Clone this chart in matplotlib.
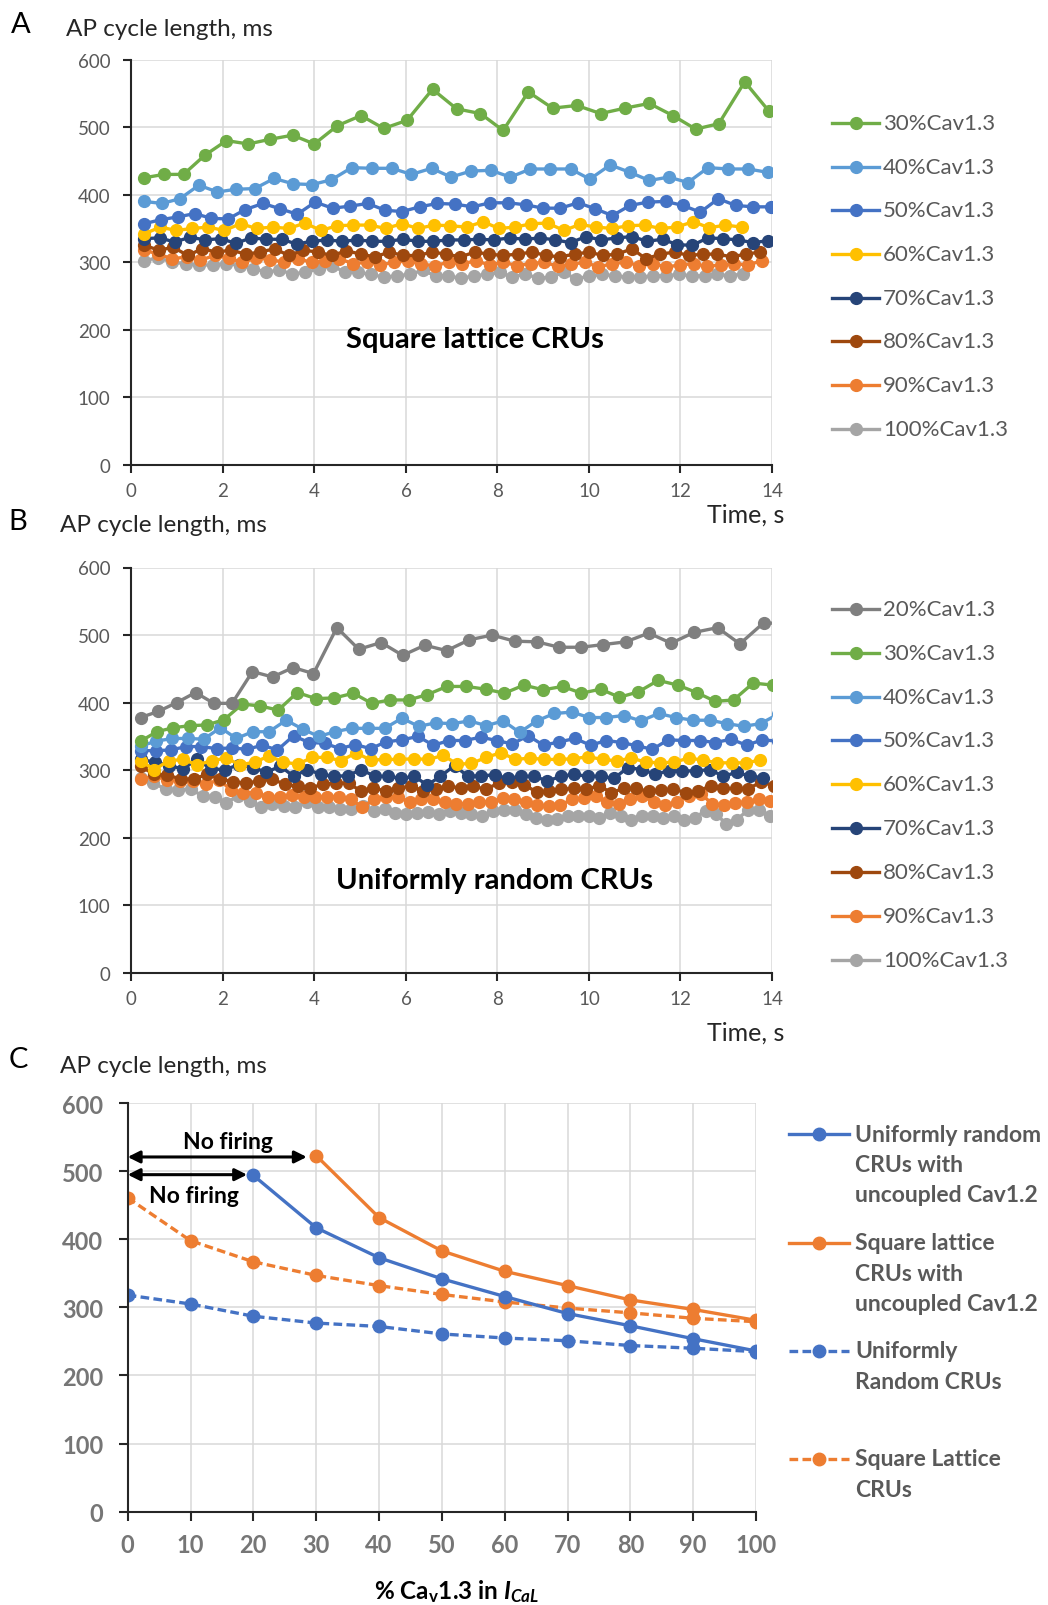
import numpy as np
import matplotlib
matplotlib.use("Agg")
import matplotlib.pyplot as plt
from matplotlib.lines import Line2D

plt.rcParams['font.family'] = ['Lato', 'DejaVu Sans']
plt.rcParams['mathtext.fontset'] = 'custom'
plt.rcParams['mathtext.rm'] = 'Lato:bold'
plt.rcParams['mathtext.it'] = 'Lato:italic:bold'
plt.rcParams['mathtext.bf'] = 'Lato:bold'

W, H = 1048, 1606

# --- Panel A: square lattice CRUs, AP cycle length (ms) per beat ---
a_labels = ["30%Cav1.3", "40%Cav1.3", "50%Cav1.3", "60%Cav1.3",
            "70%Cav1.3", "80%Cav1.3", "90%Cav1.3", "100%Cav1.3"]
a30 = [425, 430, 430, 458, 480, 475, 482, 488, 475, 502, 517, 498, 510, 556, 527, 520, 495, 552,
       528, 532, 520, 528, 535, 517, 497, 505, 567, 524]
a40 = [390, 387, 394, 414, 404, 408, 409, 424, 416, 415, 422, 440, 439, 439, 430, 439, 426, 435,
       436, 426, 438, 438, 438, 423, 444, 433, 421, 426, 418, 440, 438, 438, 433]
a50 = [357, 363, 367, 372, 365, 364, 378, 387, 379, 371, 389, 380, 383, 387, 377, 375, 382, 387,
       386, 382, 388, 388, 385, 380, 380, 388, 379, 369, 384, 389, 390, 384, 374, 394, 384, 382, 382]
a60 = [342, 352, 347, 350, 352, 347, 357, 350, 352, 350, 358, 347, 354, 355, 355, 350, 357, 350,
       355, 354, 352, 360, 350, 352, 357, 358, 347, 356, 352, 350, 354, 355, 350, 352, 360, 351, 355, 352]
a70 = [335, 336, 330, 337, 333, 335, 328, 336, 334, 334, 327, 331, 333, 331, 333, 331, 331, 334,
       331, 331, 333, 333, 334, 333, 336, 334, 336, 333, 329, 338, 333, 336, 338, 331, 334, 326,
       325, 336, 335, 333, 329, 332]
a80 = [325, 318, 322, 310, 320, 315, 318, 312, 315, 320, 310, 318, 315, 310, 317, 312, 308, 315,
       310, 310, 315, 312, 308, 315, 312, 310, 312, 315, 310, 308, 312, 315, 310, 312, 320, 305,
       312, 315, 310, 312, 312, 308, 312, 315]
a90 = [318, 312, 305, 308, 303, 310, 306, 300, 306, 304, 300, 305, 300, 302, 305, 298, 300, 296,
       300, 302, 297, 295, 300, 298, 302, 296, 300, 295, 298, 300, 294, 297, 300, 293, 298, 300,
       295, 298, 293, 296, 298, 294, 296, 298, 296, 302]
a100 = [302, 307, 300, 298, 296, 296, 298, 295, 290, 286, 288, 283, 285, 290, 295, 285, 285, 282,
        278, 280, 282, 288, 280, 280, 276, 280, 282, 285, 278, 283, 276, 278, 285, 275, 280, 282,
        280, 278, 278, 280, 280, 282, 280, 280, 282, 280, 283]

# --- Panel B: uniformly random CRUs ---
b_labels = ["20%Cav1.3"] + a_labels
b20 = [378, 387, 400, 415, 399, 399, 446, 438, 452, 443, 511, 479, 489, 470, 485, 477, 493, 500,
       491, 490, 482, 482, 486, 490, 503, 488, 504, 511, 487, 518, 517]
b30 = [343, 357, 363, 366, 367, 375, 398, 395, 389, 415, 406, 407, 414, 399, 404, 404, 412, 424,
       424, 420, 414, 426, 419, 424, 414, 420, 408, 416, 433, 426, 415, 402, 404, 429, 426]
b40 = [336, 343, 347, 347, 346, 363, 347, 357, 357, 374, 361, 350, 357, 362, 362, 362, 377, 365,
       370, 369, 373, 366, 373, 356, 373, 384, 386, 378, 378, 381, 373, 384, 378, 374, 374, 369,
       365, 369, 383]
b50 = [329, 329, 330, 335, 335, 332, 333, 331, 337, 330, 351, 341, 340, 332, 338, 332, 342, 345,
       350, 337, 344, 344, 349, 344, 339, 351, 337, 342, 347, 337, 344, 341, 336, 331, 345, 344,
       344, 341, 346, 337, 345, 343]
b60 = [314, 301, 314, 316, 308, 314, 318, 308, 312, 321, 312, 309, 319, 319, 314, 326, 315, 316,
       316, 317, 316, 322, 309, 310, 319, 326, 316, 318, 316, 316, 317, 320, 316, 314, 318, 312,
       311, 312, 318, 315, 311, 311, 311, 315]
b70 = [316, 312, 307, 302, 316, 302, 301, 308, 304, 297, 306, 291, 301, 294, 291, 292, 301, 291,
       291, 288, 291, 278, 291, 307, 291, 292, 293, 288, 291, 291, 284, 291, 294, 291, 291, 288,
       304, 301, 294, 299, 299, 299, 301, 291, 297, 291, 289]
b80 = [306, 294, 293, 287, 287, 294, 287, 283, 281, 284, 287, 279, 276, 274, 279, 281, 281, 269,
       274, 269, 273, 277, 269, 272, 276, 274, 276, 272, 281, 282, 278, 268, 269, 272, 273, 272,
       277, 267, 273, 273, 269, 271, 272, 267, 269, 277, 273, 273, 272, 283, 277]
b90 = [287, 291, 286, 284, 284, 279, 286, 271, 267, 267, 261, 261, 264, 261, 261, 261, 261, 257,
       245, 257, 261, 261, 253, 257, 257, 253, 250, 250, 253, 253, 259, 258, 253, 248, 247, 248,
       257, 259, 262, 253, 250, 258, 262, 253, 248, 253, 262, 265, 250, 249, 252, 253, 257, 254]
b100 = [289, 281, 272, 271, 272, 262, 261, 252, 262, 255, 245, 250, 247, 245, 253, 246, 245, 243,
        242, 247, 240, 242, 237, 235, 237, 238, 236, 240, 237, 235, 232, 240, 241, 241, 235, 230,
        226, 228, 233, 233, 233, 230, 237, 232, 226, 232, 233, 230, 233, 227, 230, 240, 235, 220,
        227, 241, 241, 232]

# --- Panel C: mean cycle length vs % Cav1.3 ---
pct = [0, 10, 20, 30, 40, 50, 60, 70, 80, 90, 100]
pct_ur_unc = [20, 30, 40, 50, 60, 70, 80, 90, 100]
ur_unc = [494, 417, 373, 342, 316, 291, 273, 254, 236]
pct_sl_unc = [30, 40, 50, 60, 70, 80, 90, 100]
sl_unc = [523, 432, 383, 353, 332, 311, 297, 281]
ur = [318, 305, 287, 277, 272, 261, 255, 251, 244, 240, 235]
sl = [461, 398, 367, 347, 332, 319, 308, 299, 292, 284, 279]

colors = {"20%Cav1.3": "#7F7F7F", "30%Cav1.3": "#70AD47", "40%Cav1.3": "#5B9BD5",
          "50%Cav1.3": "#4472C4", "60%Cav1.3": "#FFC000", "70%Cav1.3": "#264478",
          "80%Cav1.3": "#9E480E", "90%Cav1.3": "#ED7D31", "100%Cav1.3": "#A5A5A5"}
BLUE, ORANGE = "#4472C4", "#ED7D31"
TXT = "#595959"


def beat_times(cl, t0):
    # each point sits at the time of its AP: previous time + this cycle length
    cl = np.asarray(cl, float)
    return t0 + np.concatenate([[0], np.cumsum(cl[1:])]) / 1000.0


def fx(px):
    return px / W


def fy(px):
    return 1 - px / H


def legend_row(y, color, label, ls='-', x0=832, x1=879, tx=883, size=16, weight='normal'):
    fig.add_artist(Line2D([fx(x0), fx((x0 + x1) / 2), fx(x1)], [fy(y)] * 3, color=color,
                          lw=2.4, ls=ls, marker='o', ms=8.5, markevery=[1]))
    fig.text(fx(tx), fy(y), label, fontsize=size, color=TXT, va='center', ha='left',
             fontweight=weight)


def style_time_axes(ax):
    ax.set_xlim(0, 14)
    ax.set_ylim(0, 600)
    ax.set_xticks(range(0, 15, 2))
    ax.set_yticks(range(0, 601, 100))
    ax.grid(True, color="#D9D9D9", lw=1.1)
    ax.set_axisbelow(True)
    for s in ['top', 'right']:
        ax.spines[s].set_visible(False)
    for s in ['left', 'bottom']:
        ax.spines[s].set_color("#262626")
        ax.spines[s].set_linewidth(1.5)
    ax.tick_params(axis='both', direction='out', length=6, width=1.5, color="#262626",
                   labelsize=13.5, labelcolor=TXT)
    ax.tick_params(axis='x', pad=6)
    ax.tick_params(axis='y', pad=9)


fig = plt.figure(figsize=(W / 100, H / 100), dpi=100)

# Panel A
axA = fig.add_axes([fx(131.4), fy(466), fx(772 - 131.4), (466 - 60.5) / H])
a_series = [a30, a40, a50, a60, a70, a80, a90, a100]
for lab, cl in reversed(list(zip(a_labels, a_series))):
    axA.plot(beat_times(cl, 0.28), cl, color=colors[lab], lw=2.4, marker='o', ms=8.5)
style_time_axes(axA)
axA.text(7.5, 186, "Square lattice CRUs", fontsize=21, fontweight='bold', ha='center',
         va='center', color='black')
a_rows = [124, 168, 211, 255, 299, 342, 386, 430]
for y, lab in zip(a_rows, a_labels):
    legend_row(y, colors[lab], lab)
fig.text(fx(20.5), fy(25), "A", fontsize=21, ha='center', va='center', color='black')
fig.text(fx(66), fy(29), "AP cycle length, ms", fontsize=17.5, ha='left', va='center',
         color='#262626')
fig.text(fx(784), fy(515), "Time, s", fontsize=18, ha='right', va='center', color='#262626')

# Panel B
axB = fig.add_axes([fx(131.4), fy(974), fx(772 - 131.4), (974 - 568.5) / H])
b_series = [b20, b30, b40, b50, b60, b70, b80, b90, b100]
for lab, cl in reversed(list(zip(b_labels, b_series))):
    axB.plot(beat_times(cl, 0.2), cl, color=colors[lab], lw=2.4, marker='o', ms=8.5)
style_time_axes(axB)
axB.text(7.94, 138, "Uniformly random CRUs", fontsize=21, fontweight='bold', ha='center',
         va='center', color='black')
b_rows = [609.5, 653.6, 697.6, 740.6, 784.7, 828.7, 872.8, 916.8, 960.9]
for y, lab in zip(b_rows, b_labels):
    legend_row(y, colors[lab], lab)
fig.text(fx(17.5), fy(522.5), "B", fontsize=21, ha='center', va='center', color='black')
fig.text(fx(59.5), fy(526), "AP cycle length, ms", fontsize=17.5, ha='left', va='center',
         color='#262626')
fig.text(fx(784), fy(1032.6), "Time, s", fontsize=18, ha='right', va='center', color='#262626')

# Panel C
axC = fig.add_axes([fx(127.7), fy(1512.6), fx(756 - 127.7), (1512.6 - 1104.2) / H])
dash = (0, (2.6, 1.3))
axC.plot(pct, ur, color=BLUE, lw=2.4, ls=dash, marker='o', ms=9)
axC.plot(pct, sl, color=ORANGE, lw=2.4, ls=dash, marker='o', ms=9)
axC.plot(pct_ur_unc, ur_unc, color=BLUE, lw=2.4, marker='o', ms=9)
axC.plot(pct_sl_unc, sl_unc, color=ORANGE, lw=2.4, marker='o', ms=9)
axC.set_xlim(0, 100)
axC.set_ylim(0, 600)
axC.set_xticks(pct)
axC.set_yticks(range(0, 601, 100))
axC.grid(True, color="#D9D9D9", lw=1.1)
axC.set_axisbelow(True)
for s in ['top', 'right']:
    axC.spines[s].set_visible(False)
for s in ['left', 'bottom']:
    axC.spines[s].set_color("#262626")
    axC.spines[s].set_linewidth(1.5)
axC.tick_params(axis='both', direction='out', length=6.5, width=1.5, color="#262626",
                labelsize=17, labelcolor="#767676")
axC.tick_params(axis='x', pad=9)
axC.tick_params(axis='y', pad=11)
for t in axC.get_xticklabels() + axC.get_yticklabels():
    t.set_fontweight('bold')

arrow = dict(arrowstyle='<|-|>', color='black', lw=2.2, mutation_scale=18, shrinkA=0, shrinkB=0)
axC.annotate("", xy=(0, 521), xytext=(28.5, 521), arrowprops=arrow)
axC.annotate("", xy=(0, 495), xytext=(19, 495), arrowprops=arrow)
axC.text(15.9, 543, "No firing", fontsize=16.5, fontweight='bold', ha='center', va='center')
axC.text(10.5, 464, "No firing", fontsize=16.5, fontweight='bold', ha='center', va='center')

c_entries = [(1135, BLUE, '-', ["Uniformly random", "CRUs with", "uncoupled Cav1.2"]),
             (1243.6, ORANGE, '-', ["Square lattice", "CRUs with", "uncoupled Cav1.2"]),
             (1352, BLUE, dash, ["Uniformly", "Random CRUs"]),
             (1459.8, ORANGE, dash, ["Square Lattice", "CRUs"])]
for y, col, ls, lines in c_entries:
    fig.add_artist(Line2D([fx(789), fx(819), fx(849)], [fy(y)] * 3, color=col, lw=2.4, ls=ls,
                          marker='o', ms=9, markevery=[1]))
    for i, line in enumerate(lines):
        fig.text(fx(855), fy(y + 30.5 * i), line, fontsize=16.5, fontweight='bold', color=TXT,
                 ha='left', va='center')

fig.text(fx(18.5), fy(1060), "C", fontsize=21, ha='center', va='center', color='black')
fig.text(fx(59.5), fy(1066.5), "AP cycle length, ms", fontsize=17.5, ha='left', va='center',
         color='#262626')
fig.text(fx(457), fy(1592), r"% Ca$_{\mathbf{v}}$1.3 in $I_{CaL}$", fontsize=17.5,
         fontweight='bold', ha='center', va='center', color='black')

fig.savefig("out.png", dpi=100)
